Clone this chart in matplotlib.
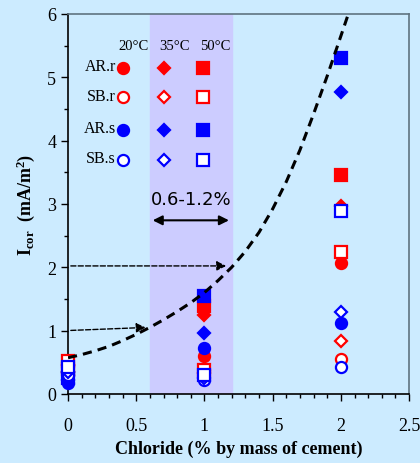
import numpy as np
import matplotlib
matplotlib.use('Agg')
import matplotlib.pyplot as plt
from matplotlib.ticker import MultipleLocator

plt.rcParams['font.family'] = ['Liberation Serif', 'DejaVu Serif']
plt.rcParams['mathtext.fontset'] = 'custom'
plt.rcParams['mathtext.rm'] = 'Liberation Serif'
plt.rcParams['mathtext.it'] = 'Liberation Serif:italic'
plt.rcParams['mathtext.bf'] = 'Liberation Serif:bold'

# Data
chloride = [0, 1, 2]
series_names = ['AR.r', 'SB.r', 'AR.s', 'SB.s']
temps = ['20°C', '35°C', '50°C']
icor = {
    ('AR.r', '20°C'): [0.30, 0.60, 2.07],
    ('AR.r', '35°C'): [0.35, 1.24, 2.97],
    ('AR.r', '50°C'): [0.40, 1.39, 3.45],
    ('SB.r', '20°C'): [0.45, 0.38, 0.55],
    ('SB.r', '35°C'): [0.45, 0.33, 0.83],
    ('SB.r', '50°C'): [0.52, 0.38, 2.24],
    ('AR.s', '20°C'): [0.17, 0.72, 1.12],
    ('AR.s', '35°C'): [0.22, 0.96, 4.77],
    ('AR.s', '50°C'): [0.25, 1.55, 5.30],
    ('SB.s', '20°C'): [0.30, 0.22, 0.42],
    ('SB.s', '35°C'): [0.35, 0.25, 1.30],
    ('SB.s', '50°C'): [0.42, 0.30, 2.88],
}
# trend curve
curve_x = [0, 0.1, 0.2, 0.3, 0.4, 0.5, 0.6, 0.7, 0.8, 0.9, 1.0, 1.1, 1.2,
           1.3, 1.4, 1.5, 1.6, 1.7, 1.8, 1.9, 2.0, 2.055]
curve_y = [0.57, 0.62, 0.68, 0.75, 0.84, 0.94, 1.05, 1.17, 1.30, 1.44, 1.60,
           1.79, 2.00, 2.25, 2.55, 2.92, 3.35, 3.85, 4.42, 5.02, 5.65, 6.0]

# styles
colors = {'AR.r': 'red', 'SB.r': 'red', 'AR.s': 'blue', 'SB.s': 'blue'}
filled = {'AR.r': True, 'SB.r': False, 'AR.s': True, 'SB.s': False}
markers = {'20°C': 'o', '35°C': 'D', '50°C': 's'}
msizes = {'20°C': 8, '35°C': 6.5, '50°C': 8}

bg = '#CCEBFF'
fig = plt.figure(figsize=(4.2, 4.64), dpi=100, facecolor=bg)
ax = fig.add_axes([0.162, 0.149, 0.812, 0.819], facecolor=bg)

ax.axvspan(0.6, 1.2, color='#CCCCFF', zorder=0)

def draw(ax, x, y, s, t):
    c = colors[s]
    ax.plot(x, y, linestyle='none', marker=markers[t], ms=msizes[t],
            mfc=c if filled[s] else 'white', mec=c, mew=1.6, zorder=3,
            clip_on=False)

for s in series_names:
    for t in temps:
        draw(ax, chloride, icor[(s, t)], s, t)

ax.plot(curve_x, curve_y, 'k--', lw=2.2, dashes=(3, 2), zorder=4)

# arrows to curve
ax.annotate('', xy=(0.59, 1.05), xytext=(0, 1.0),
            arrowprops=dict(arrowstyle='-|>', linestyle='--', color='black', lw=1,
                            mutation_scale=14), zorder=4)
ax.annotate('', xy=(1.18, 2.02), xytext=(0, 2.02),
            arrowprops=dict(arrowstyle='-|>', linestyle='--', color='black', lw=1,
                            mutation_scale=14), zorder=4)
ax.annotate('', xy=(1.2, 2.74), xytext=(0.6, 2.74),
            arrowprops=dict(arrowstyle='<|-|>', color='black', lw=1.5,
                            mutation_scale=14), zorder=4)
ax.text(0.9, 3.08, '0.6-1.2%', ha='center', va='center', fontsize=13,
        family='DejaVu Sans', zorder=5)

# in-plot legend table
leg_cols = [0.40, 0.70, 0.99]
head_x = [0.48, 0.78, 1.08]
leg_rows = [5.15, 4.68, 4.17, 3.69]
for hx, t in zip(head_x, temps):
    ax.text(hx, 5.50, t, ha='center', va='center', fontsize=10.5)
for ry, s in zip(leg_rows, series_names):
    ax.text(0.35, ry + 0.03, s, ha='right', va='center', fontsize=11.5)
    for cx, t in zip(leg_cols, temps):
        draw(ax, [cx], [ry], s, t)

ax.set_xlim(0, 2.5)
ax.set_ylim(0, 6)
ax.xaxis.set_minor_locator(MultipleLocator(0.1))
ax.yaxis.set_major_locator(MultipleLocator(1))
ax.yaxis.set_minor_locator(MultipleLocator(0.5))
ax.set_xticks([0, 0.5, 1, 1.5, 2, 2.5])
ax.set_xticklabels(['0', '0.5', '1', '1.5', '2', '2.5'])
ax.tick_params(which='major', direction='out', length=5, width=1, labelsize=13)
ax.tick_params(which='minor', direction='out', length=3, width=1)
ax.tick_params(axis='x', pad=12)

for side in ['top', 'right']:
    ax.spines[side].set_color('#5F7380')
    ax.spines[side].set_linewidth(1.2)
for side in ['left', 'bottom']:
    ax.spines[side].set_color('black')
    ax.spines[side].set_linewidth(1.2)

ax.set_xlabel('Chloride (% by mass of cement)', fontsize=13, fontweight='bold', labelpad=4)
ax.set_ylabel(r'$\mathbf{I_{cor}}$  (mA/m$\mathbf{^2}$)', fontsize=13, fontweight='bold',
              labelpad=7)

fig.savefig('out.png', dpi=100, facecolor=bg)
